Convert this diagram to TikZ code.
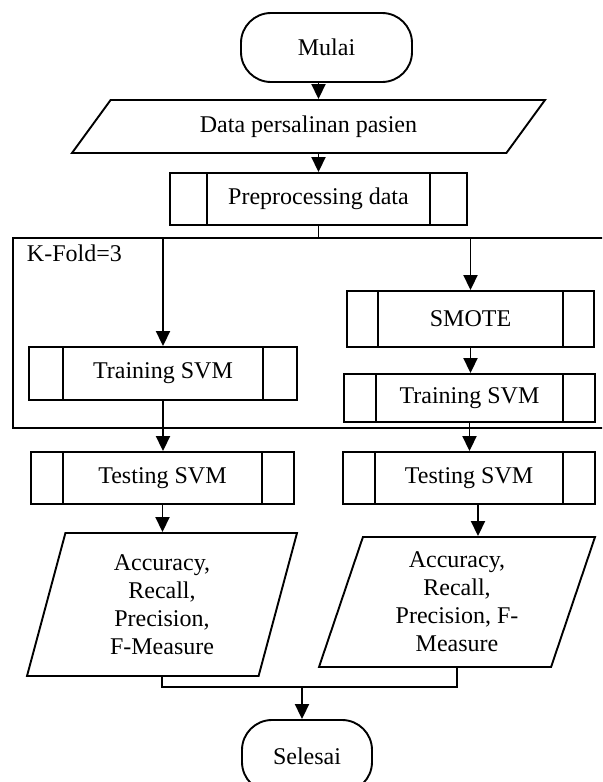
\documentclass[tikz,border=0pt]{standalone}
\usepackage{fontspec}
\setmainfont{Liberation Serif}
\usetikzlibrary{shapes.geometric, arrows.meta}

\begin{document}
\begin{tikzpicture}[x=0.5pt, y=-0.5pt,
		font=\fontsize{12}{14}\selectfont, line width=0.95pt,
		term/.style={draw, rectangle, rounded corners=15pt, inner sep=0pt},
		io/.style={draw, trapezium, trapezium stretches body, inner sep=0pt, align=center},
		proc/.style={draw, rectangle, inner sep=0pt,
			path picture={
				\draw ([xshift=#1]path picture bounding box.north west) -- ([xshift=#1]path picture bounding box.south west)
				([xshift=-#1]path picture bounding box.north east) -- ([xshift=-#1]path picture bounding box.south east);
			}},
		proc/.default=16pt,
		arr/.style={-{Triangle[length=7.5pt, width=7pt]}}]
			\clip (0,0) rectangle (602,782);
			
			% K-fold frame, open on the right
			\draw (610,238) -- (13,238) -- (13,428) -- (610,428);
			\node[anchor=west, inner sep=0pt] (kfold) at (26,253) {K-Fold=3};
			
			% top part
			\node[term, minimum width=85.5pt, minimum height=34.5pt] (mulai) at (326.5,47.5) {Mulai};
			\node[io, trapezium left angle=29.4, trapezium right angle=150.6,
				minimum width=236.5pt, minimum height=26.5pt] (data) at (308.5,126.5) {Data persalinan pasien};
			\node[proc=18.5pt, minimum width=148.5pt, minimum height=26pt] (preproc) at (318.5,199) {Preprocessing data};
			\coordinate (split) at (318.5,238);
			
			% left branch: without SMOTE
			\node[proc=17pt, minimum width=134pt, minimum height=26.5pt] (trainL) at (163,373.5) {Training SVM};
			\node[proc, minimum width=131.5pt, minimum height=26pt] (testL) at (162.5,478) {Testing SVM};
			\node[io, trapezium left angle=69, trapezium right angle=111,
				minimum width=135pt, minimum height=71.5pt] (accL) at (162,604.5) {Accuracy,\\Recall,\\Precision,\\F-Measure};
			
			% right branch: with SMOTE
			\node[proc=15.5pt, minimum width=123.5pt, minimum height=28pt] (smote) at (470.5,319) {SMOTE};
			\node[proc, minimum width=125.5pt, minimum height=24pt] (trainR) at (469.5,398) {Training SVM};
			\node[proc, minimum width=126pt, minimum height=26pt] (testR) at (469,478) {Testing SVM};
			\node[io, trapezium left angle=66.3, trapezium right angle=113.7,
				minimum width=138pt, minimum height=65pt] (accR) at (457,602) {Accuracy,\\Recall,\\Precision, F-\\Measure};
			
			\node[term, minimum width=65pt, minimum height=36pt] (selesai) at (307,756) {Selesai};
			\coordinate (join) at (302,687);
			
			% connectors
			\draw[arr] (mulai.south -| preproc.north) -- (data.north -| preproc.north);
			\draw[arr] (data.south -| preproc.north) -- (preproc.north);
			\draw (preproc.south) -- (split);
			\draw[arr] (trainL.north |- split) -- (trainL.north);
			\draw[arr] (smote.north |- split) -- (smote.north);
			\draw[arr] (smote.south) -- (smote.south |- trainR.north);
			\draw[arr] (trainL.south) -- (trainL.south |- testL.north);
			\draw[arr] (trainR.south) -- (trainR.south |- testR.north);
			\draw[arr] (testL.south) -- (testL.south |- accL.north);
			\draw[arr] ([xshift=4.5pt]testR.south) -- ([xshift=4.5pt]testR.south |- accR.north);
			\draw (accL.south) |- (join) -| (accR.south);
			\draw[arr] (join) -- (join |- selesai.north);

		\end{tikzpicture}
\end{document}
